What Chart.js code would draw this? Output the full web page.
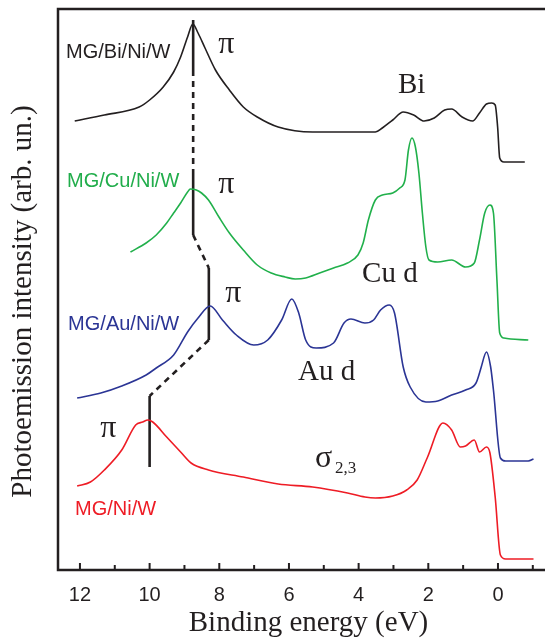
<!DOCTYPE html>
<html lang="en">
<head>
<meta charset="UTF-8">
<title>Photoemission spectra</title>
<script src="https://cdn.jsdelivr.net/npm/chart.js"></script>
<style>
  html, body { margin: 0; padding: 0; background: #fff; }
  canvas { display: block; }
</style>
</head>
<body>
<canvas id="chart" width="545" height="641"></canvas>
<script>
// Binding energy (eV) and intensity (arb. un.)
const biE = [12.15, 11.30, 10.30, 10.00, 9.61, 9.31, 9.11, 8.91, 8.76, 8.61, 8.41, 8.11, 7.71, 7.31, 6.91, 6.31, 5.32, 4.32, 3.52, 3.32, 3.02, 2.72, 2.42, 2.12, 1.83, 1.53, 1.33, 1.03, 0.73, 0.53, 0.33, 0.18, 0.08, 0.01, -0.05, -0.17, -0.77];
const biI = [449, 455, 463, 470, 483, 498, 513, 533, 546, 537, 522, 500, 480, 463, 453, 443, 438, 438, 438, 442, 450, 458, 455, 449, 452, 460, 461, 453, 449, 457, 466, 467, 465, 443, 412, 408, 408];

const cuE = [10.55, 10.10, 9.81, 9.51, 9.31, 9.11, 8.91, 8.83, 8.66, 8.51, 8.31, 8.01, 7.71, 7.31, 6.91, 6.51, 6.11, 5.82, 5.52, 5.12, 4.72, 4.32, 4.02, 3.87, 3.72, 3.52, 3.32, 3.02, 2.82, 2.67, 2.57, 2.47, 2.37, 2.27, 2.17, 2.07, 1.98, 1.73, 1.33, 0.93, 0.68, 0.53, 0.38, 0.23, 0.13, 0.03, -0.05, -0.17, -0.87];
const cuI = [318, 327, 335, 347, 357, 367, 378, 381, 380, 377, 370, 353, 337, 320, 305, 297, 293, 291, 292, 297, 302, 307, 315, 327, 350, 370, 375, 377, 382, 390, 420, 432, 423, 397, 357, 323, 310, 308, 310, 303, 307, 330, 357, 365, 357, 290, 237, 232, 230];

const auE = [12.08, 11.40, 10.80, 10.10, 9.81, 9.31, 8.91, 8.61, 8.26, 7.91, 7.51, 7.01, 6.61, 6.21, 5.92, 5.72, 5.52, 5.22, 4.72, 4.42, 4.22, 3.82, 3.57, 3.37, 3.12, 2.97, 2.72, 2.52, 2.07, 1.73, 1.33, 0.93, 0.63, 0.53, 0.48, 0.33, 0.21, 0.13, -0.07, -0.22, -0.87, -1.02];
const auI = [172, 177, 184, 195, 202, 215, 238, 252, 264, 250, 235, 225, 230, 250, 271, 257, 230, 222, 227, 247, 251, 247, 250, 260, 265, 257, 203, 183, 168, 169, 175, 180, 187, 197, 203, 218, 203, 180, 112, 109, 109, 111];

const niE = [12.08, 11.70, 11.30, 10.80, 10.40, 10.20, 10.05, 9.91, 9.51, 9.11, 8.81, 8.31, 7.31, 6.31, 5.32, 4.32, 3.82, 3.52, 3.02, 2.62, 2.32, 2.02, 1.58, 1.33, 1.08, 0.93, 0.68, 0.53, 0.33, 0.23, 0.08, -0.07, -0.22, -1.02];
const niI = [84, 88, 100, 120, 145, 148, 150, 148, 133, 118, 107, 100, 93, 86, 83, 77, 73, 72, 74, 80, 90, 113, 147, 140, 123, 124, 130, 118, 123, 117, 73, 15, 11, 11];

// pi-peak markers: solid bars and the dashed guide joining them
const piBarE = [8.75, 8.75, 8.30, 10.0];
const piBarLo = [500, 335, 230, 103];
const piBarHi = [550, 400, 302, 174];
const guideE = [[8.75, 8.75], [8.75, 8.30], [8.30, 10.0]];
const guideI = [[500, 400], [335, 302], [230, 174]];

const xTicks = [12, 10, 8, 6, 4, 2, 0];
const xMinor = [11, 9, 7, 5, 3, 1, -1];

const xTitle = 'Binding energy (eV)';
const yTitle = 'Photoemission intensity (arb. un.)';

const sans = '"Liberation Sans", Arial, sans-serif';
const serif = '"Liberation Serif", "Times New Roman", serif';

// text labels in data coordinates
const labels = [
  { text: 'MG/Bi/Ni/W', e: 12.40, i: 512, font: '20px ' + sans, color: '#231f20' },
  { text: 'π', e: 8.03, i: 517, font: '32px ' + serif, color: '#231f20' },
  { text: 'Bi', e: 2.87, i: 477, font: '29px ' + serif, color: '#231f20' },
  { text: 'MG/Cu/Ni/W', e: 12.37, i: 383, font: '20px ' + sans, color: '#21ad4b' },
  { text: 'π', e: 8.03, i: 377, font: '32px ' + serif, color: '#231f20' },
  { text: 'Cu d', e: 3.90, i: 288, font: '29px ' + serif, color: '#231f20' },
  { text: 'π', e: 7.83, i: 268, font: '32px ' + serif, color: '#231f20' },
  { text: 'MG/Au/Ni/W', e: 12.34, i: 240, font: '20px ' + sans, color: '#2b3595' },
  { text: 'Au d', e: 5.74, i: 190, font: '29px ' + serif, color: '#231f20' },
  { text: 'π', e: 11.42, i: 133, font: '32px ' + serif, color: '#231f20' },
  { text: 'σ', e: 5.25, i: 103, font: '32px ' + serif, color: '#231f20' },
  { text: '2,3', e: 4.68, i: 97, font: '17px ' + serif, color: '#231f20' },
  { text: 'MG/Ni/W', e: 12.14, i: 55, font: '20px ' + sans, color: '#ee1c25' }
];

const ink = '#231f20';

function pts(es, is) {
  return es.map((e, k) => ({ x: e, y: is[k] }));
}

function curve(es, is, color) {
  return {
    data: pts(es, is),
    borderColor: color,
    borderWidth: 1.6,
    pointRadius: 0,
    cubicInterpolationMode: 'monotone',
    fill: false
  };
}

const datasets = [
  curve(biE, biI, ink),
  curve(cuE, cuI, '#21b04b'),
  curve(auE, auI, '#2b3595'),
  curve(niE, niI, '#ee1c25')
];

piBarE.forEach((e, k) => {
  datasets.push({
    data: [{ x: e, y: piBarLo[k] }, { x: e, y: piBarHi[k] }],
    borderColor: ink, borderWidth: 2.6, pointRadius: 0, tension: 0
  });
});
guideE.forEach((es, k) => {
  datasets.push({
    data: pts(es, guideI[k]),
    borderColor: ink, borderWidth: 2.6, borderDash: [6, 5], pointRadius: 0, tension: 0
  });
});

// frame, inward ticks, axis titles and labels
const decor = {
  id: 'decor',
  afterDatasetsDraw(chart) {
    const { ctx, chartArea: a, scales: { x, y } } = chart;
    ctx.save();
    ctx.strokeStyle = ink;
    ctx.lineWidth = 2.5;
    ctx.beginPath();
    ctx.moveTo(a.right, a.top);
    ctx.lineTo(a.left, a.top);
    ctx.lineTo(a.left, a.bottom);
    ctx.lineTo(a.right, a.bottom);
    ctx.stroke();

    ctx.lineWidth = 2;
    ctx.beginPath();
    xTicks.forEach(v => {
      const px = x.getPixelForValue(v);
      ctx.moveTo(px, a.bottom);
      ctx.lineTo(px, a.bottom - 7);
    });
    xMinor.forEach(v => {
      const px = x.getPixelForValue(v);
      ctx.moveTo(px, a.bottom);
      ctx.lineTo(px, a.bottom - 5);
    });
    ctx.stroke();

    ctx.fillStyle = ink;
    ctx.textBaseline = 'alphabetic';
    ctx.textAlign = 'center';
    ctx.font = '29px ' + serif;
    ctx.fillText(xTitle, (a.left + a.right) / 2 + 7, a.bottom + 61);

    ctx.save();
    ctx.translate(a.left - 27, (a.top + a.bottom) / 2 + 12);
    ctx.rotate(-Math.PI / 2);
    ctx.fillText(yTitle, 0, 0);
    ctx.restore();

    ctx.textAlign = 'left';
    labels.forEach(l => {
      ctx.font = l.font;
      ctx.fillStyle = l.color;
      ctx.fillText(l.text, x.getPixelForValue(l.e), y.getPixelForValue(l.i));
    });
    ctx.restore();
  }
};

new Chart(document.getElementById('chart'), {
  type: 'line',
  data: { datasets },
  options: {
    responsive: false,
    animation: false,
    devicePixelRatio: 1,
    layout: { padding: { top: 9, right: 0, bottom: 0, left: 0 } },
    plugins: { legend: { display: false }, tooltip: { enabled: false } },
    scales: {
      x: {
        type: 'linear',
        reverse: true,
        min: -1.35,
        max: 12.63,
        afterBuildTicks: s => { s.ticks = xTicks.map(v => ({ value: v })); },
        afterFit: s => { s.height = 71; },
        grid: { display: false, drawTicks: false },
        border: { display: false },
        ticks: {
          padding: 13,
          color: ink,
          font: { family: sans, size: 20 },
          callback: v => String(v)
        }
      },
      y: {
        type: 'linear',
        min: 0,
        max: 561,
        afterFit: s => { s.width = 58; },
        grid: { display: false, drawTicks: false },
        border: { display: false },
        ticks: { display: false }
      }
    }
  },
  plugins: [decor]
});
</script>
</body>
</html>
